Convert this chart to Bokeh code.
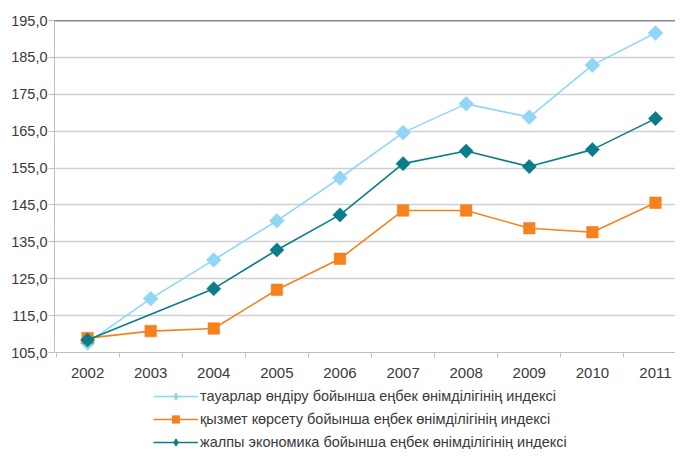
import math
from bokeh.plotting import figure
from bokeh.layouts import column
from bokeh.models import ColumnDataSource, FixedTicker, Legend, LegendItem, Span
from bokeh.embed import file_html
from bokeh.resources import INLINE

years = [2002, 2003, 2004, 2005, 2006, 2007, 2008, 2009, 2010, 2011]
goods = [107.6, 119.6, 130.1, 140.7, 152.3, 164.6, 172.4, 168.8, 182.9, 191.6]
services = [108.9, 110.8, 111.5, 122.0, 130.4, 143.5, 143.5, 138.7, 137.6, 145.6]
economy = [108.4, float("nan"), 122.3, 132.8, 142.3, 156.2, 159.6, 155.4, 160.0, 168.4]

series_names = [
    "тауарлар өндіру бойынша еңбек өнімділігінің индексі",
    "қызмет көрсету бойынша еңбек өнімділігінің индексі",
    "жалпы экономика бойынша еңбек өнімділігінің индексі",
]
y_ticks = [105, 115, 125, 135, 145, 155, 165, 175, 185, 195]
y_tick_labels = ["105,0", "115,0", "125,0", "135,0", "145,0", "155,0", "165,0", "175,0", "185,0", "195,0"]

C_GOODS = "#92d6f6"
C_SERV = "#f5821f"
C_ECON = "#0a7d8a"
FONT = "Liberation Sans"
TXT = "#3a3a3a"

W = 675
H1 = 386
H2 = 63

p = figure(width=W, height=H1, output_backend="svg", toolbar_location=None,
           x_range=(2001.476, 2011.317), y_range=(105, 195),
           min_border_left=54, min_border_right=0, min_border_top=20,
           min_border_bottom=H1 - 352)
p.outline_line_color = None
p.background_fill_color = "white"

# x axis
xa = p.xaxis[0]
xa.ticker = FixedTicker(ticks=years, minor_ticks=[y - 0.5 for y in years] + [years[-1] + 0.5])
xa.major_tick_out = 0
xa.major_tick_in = 0
xa.minor_tick_out = 5
xa.minor_tick_in = 0
xa.minor_tick_line_color = "#bfbfbf"
xa.axis_line_color = "#bfbfbf"
xa.major_label_text_font = FONT
xa.major_label_text_font_size = "15px"
xa.major_label_text_color = TXT
xa.major_label_standoff = 10

# y axis
ya = p.yaxis[0]
ya.ticker = FixedTicker(ticks=y_ticks)
ya.major_label_overrides = {t: l for t, l in zip(y_ticks, y_tick_labels)}
ya.major_tick_out = 6
ya.major_tick_in = 0
ya.minor_tick_line_color = None
ya.major_tick_line_color = "#bfbfbf"
ya.axis_line_color = "#bfbfbf"
ya.major_label_text_font = FONT
ya.major_label_text_font_size = "14.5px"
ya.major_label_text_color = TXT
ya.major_label_standoff = 1

p.xgrid.grid_line_color = None
p.ygrid.grid_line_color = "#d0d0d0"
p.ygrid.grid_line_width = 1.5
p.ygrid.ticker = FixedTicker(ticks=y_ticks)

p.add_layout(Span(location=y_ticks[-1], dimension="width", line_color="#111111", line_width=1.5))

def clean(xs, ys):
    pts = [(x, y) for x, y in zip(xs, ys) if not math.isnan(y)]
    return dict(x=[a for a, _ in pts], y=[b for _, b in pts])

# legend figure (its ranges keep the data off-screen; only the legend shows)
q = figure(width=W, height=H2, output_backend="svg", toolbar_location=None,
           x_range=(0, 1), y_range=(0, 1),
           min_border_left=0, min_border_right=0, min_border_top=0, min_border_bottom=0)
q.axis.visible = False
q.grid.visible = False
q.outline_line_color = None

specs = [
    (goods, C_GOODS, 45, 10.5, "diamond", 9.5),
    (services, C_SERV, 0, 11.5, "square", 6),
    (economy, C_ECON, 45, 10, "diamond", 9.5),
]
items = []
for name, (vals, col, ang, big, smk, small) in zip(series_names, specs):
    src = ColumnDataSource(clean(years, vals))
    p.line("x", "y", source=src, line_color=col, line_width=1.6)
    p.scatter("x", "y", source=src, marker="square", size=big, angle=math.radians(ang),
              fill_color=col, line_color=col, line_alpha=0.6)
    ln = q.line("x", "y", source=src, line_color=col, line_width=1.6)
    mk = q.scatter("x", "y", source=src, marker=smk, size=small, fill_color=col, line_color=col)
    items.append(LegendItem(label=name, renderers=[ln, mk]))

legend = Legend(items=items, orientation="vertical", location=(99, -2))
legend.border_line_color = None
legend.background_fill_alpha = 0
legend.padding = 0
legend.margin = 0
legend.spacing = 5
legend.glyph_width = 45
legend.glyph_height = 18
legend.label_height = 18
legend.label_standoff = 2
legend.label_text_font = FONT
legend.label_text_font_size = "14.5px"
legend.label_text_color = TXT
q.add_layout(legend, "center")

layout = column(p, q, spacing=0)
open("out.html", "w").write(file_html(layout, INLINE))
